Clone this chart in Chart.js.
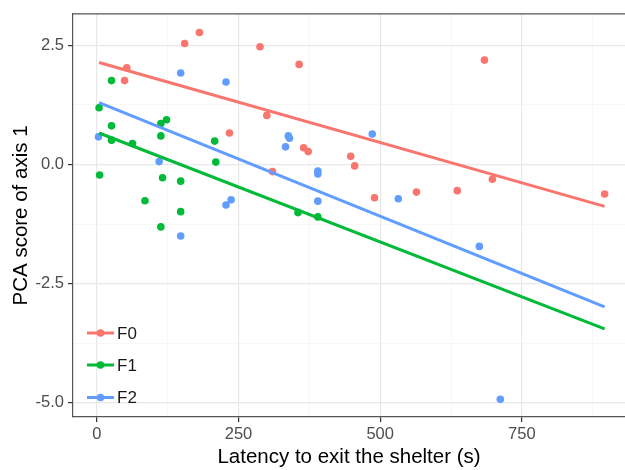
<!DOCTYPE html>
<html>
<head>
<meta charset="utf-8">
<script src="https://cdn.jsdelivr.net/npm/chart.js@4.4.1/dist/chart.umd.min.js"></script>
<style>
  html, body { margin: 0; padding: 0; background: #fff; }
</style>
</head>
<body>
<canvas id="myChart" width="625" height="470"></canvas>
<script>
// groups and colours (ggplot default hues)
var groups = ['F0', 'F1', 'F2'];
var colors = ['#F8766D', '#00BA38', '#619CFF'];

// points: latency (s) and PCA score
var f0Latency = [49, 53, 155, 181, 234, 288, 300, 310, 357, 365, 373, 448, 455, 490, 564, 636, 684, 698, 896];
var f0Score   = [1.76, 2.03, 2.54, 2.77, 0.66, 2.47, 1.03, -0.15, 2.10, 0.35, 0.27, 0.17, -0.03, -0.70, -0.58, -0.55, 2.19, -0.31, -0.62];
var f1Latency = [4, 5, 26, 26, 26, 63, 85, 113, 113, 113, 116, 123, 148, 148, 208, 210, 355, 390];
var f1Score   = [1.19, -0.22, 1.76, 0.81, 0.51, 0.44, -0.76, 0.86, 0.60, -1.31, -0.28, 0.94, -0.35, -0.99, 0.49, 0.05, -1.01, -1.10];
var f2Latency = [3, 110, 148, 148, 228, 228, 237, 333, 338, 340, 390, 390, 390, 486, 532, 675, 712];
var f2Score   = [0.58, 0.06, 1.92, -1.50, 1.73, -0.85, -0.74, 0.37, 0.60, 0.55, -0.14, -0.20, -0.77, 0.64, -0.72, -1.72, -4.93];

// fitted lines (end points)
var fitLatency = [4, 896];
var f0Fit = [2.14, -0.88];
var f1Fit = [0.66, -3.45];
var f2Fit = [1.30, -2.99];

// ticks
var xMajor = [0, 250, 500, 750];
var xTickLabels = ['0', '250', '500', '750'];
var xMinor = [125, 375, 625, 875];
var yMajor = [-5, -2.5, 0, 2.5];
var yTickLabels = ['-5.0', '-2.5', '0.0', '2.5'];
var yMinor = [-3.75, -1.25, 1.25];

var FONT = '"Liberation Sans", Arial, sans-serif';

function pts(xs, ys) {
  var out = [];
  for (var i = 0; i < xs.length; i++) out.push({x: xs[i], y: ys[i]});
  return out;
}

var scores = [[f0Latency, f0Score], [f1Latency, f1Score], [f2Latency, f2Score]];
var fits = [f0Fit, f1Fit, f2Fit];

var datasets = [];
for (var g = 0; g < groups.length; g++) {
  datasets.push({
    label: groups[g],
    data: pts(fitLatency, fits[g]),
    showLine: true,
    borderColor: colors[g],
    borderWidth: 3,
    pointRadius: 0,
    order: 0
  });
  datasets.push({
    label: groups[g] + ' points',
    data: pts(scores[g][0], scores[g][1]),
    backgroundColor: colors[g],
    borderWidth: 0,
    pointRadius: 3.8,
    order: 1
  });
}

function isMajor(list, v) { return list.indexOf(v) >= 0; }

// the panel runs to the right edge of the picture
var stretchRight = {
  id: 'stretchRight',
  afterLayout: function(chart) {
    var a = chart.chartArea, x = chart.scales.x;
    a.right = chart.width;
    a.width = a.right - a.left;
    x.right = chart.width;
    x.width = x.right - x.left;
    x.configure();
  }
};

// top border of the panel + legend inside the panel
var panelExtras = {
  id: 'panelExtras',
  afterDraw: function(chart) {
    var ctx = chart.ctx, a = chart.chartArea;
    ctx.save();
    ctx.strokeStyle = '#555';
    ctx.lineWidth = 1.2;
    ctx.beginPath();
    ctx.moveTo(a.left, a.top);
    ctx.lineTo(a.right, a.top);
    ctx.stroke();

    var ys = [333, 365, 397.5];
    ctx.font = '17px ' + FONT;
    ctx.textBaseline = 'middle';
    ctx.textAlign = 'left';
    for (var i = 0; i < groups.length; i++) {
      ctx.strokeStyle = colors[i];
      ctx.lineWidth = 3;
      ctx.beginPath();
      ctx.moveTo(87, ys[i]);
      ctx.lineTo(114, ys[i]);
      ctx.stroke();
      ctx.fillStyle = colors[i];
      ctx.beginPath();
      ctx.arc(100.5, ys[i], 3.8, 0, Math.PI * 2);
      ctx.fill();
      ctx.fillStyle = '#1a1a1a';
      ctx.fillText(groups[i], 117, ys[i] + 1);
    }
    ctx.restore();
  }
};

var ctx = document.getElementById('myChart').getContext('2d');
var chart = new Chart(ctx, {
  type: 'scatter',
  data: { datasets: datasets },
  options: {
    responsive: false,
    animation: false,
    devicePixelRatio: 1,
    layout: { padding: { top: 11, right: 0, left: 0, bottom: 0 } },
    plugins: { legend: { display: false }, tooltip: { enabled: false } },
    scales: {
      x: {
        type: 'linear',
        min: -42,
        max: 932,
        afterBuildTicks: function(s) {
          s.ticks = xMajor.concat(xMinor).sort(function(a, b) { return a - b; })
            .map(function(v) { return {value: v}; });
        },
        afterFit: function(s) { s.height = 53; },
        border: { display: true, color: '#555', width: 1.2 },
        grid: {
          color: function(c) { return isMajor(xMajor, c.tick.value) ? '#e8e8e8' : '#f3f3f3'; },
          lineWidth: function(c) { return isMajor(xMajor, c.tick.value) ? 1.2 : 0.7; },
          tickColor: function(c) { return isMajor(xMajor, c.tick.value) ? '#333' : 'rgba(0,0,0,0)'; },
          tickLength: 5
        },
        ticks: {
          autoSkip: false,
          maxRotation: 0,
          padding: 3,
          color: '#4d4d4d',
          font: { family: FONT, size: 16.5 },
          callback: function(v) {
            var i = xMajor.indexOf(v);
            return i >= 0 ? xTickLabels[i] : '';
          }
        },
        title: {
          display: true,
          text: 'Latency to exit the shelter (s)',
          color: '#000',
          font: { family: FONT, size: 20.5 },
          padding: { top: 0, bottom: 0 }
        }
      },
      y: {
        type: 'linear',
        min: -5.3,
        max: 3.16,
        afterBuildTicks: function(s) {
          s.ticks = yMajor.concat(yMinor).sort(function(a, b) { return a - b; })
            .map(function(v) { return {value: v}; });
        },
        afterFit: function(s) { s.width = 73; },
        border: { display: true, color: '#555', width: 1.2 },
        grid: {
          color: function(c) { return isMajor(yMajor, c.tick.value) ? '#e8e8e8' : '#f3f3f3'; },
          lineWidth: function(c) { return isMajor(yMajor, c.tick.value) ? 1.2 : 0.7; },
          tickColor: function(c) { return isMajor(yMajor, c.tick.value) ? '#333' : 'rgba(0,0,0,0)'; },
          tickLength: 5
        },
        ticks: {
          autoSkip: false,
          padding: 4,
          color: '#4d4d4d',
          font: { family: FONT, size: 16.5 },
          callback: function(v) {
            var i = yMajor.indexOf(v);
            return i >= 0 ? yTickLabels[i] : '';
          }
        },
        title: {
          display: true,
          text: 'PCA score of axis 1',
          color: '#000',
          font: { family: FONT, size: 20.5 },
          padding: { top: 9, bottom: 0 }
        }
      }
    }
  },
  plugins: [stretchRight, panelExtras]
});
</script>
</body>
</html>
